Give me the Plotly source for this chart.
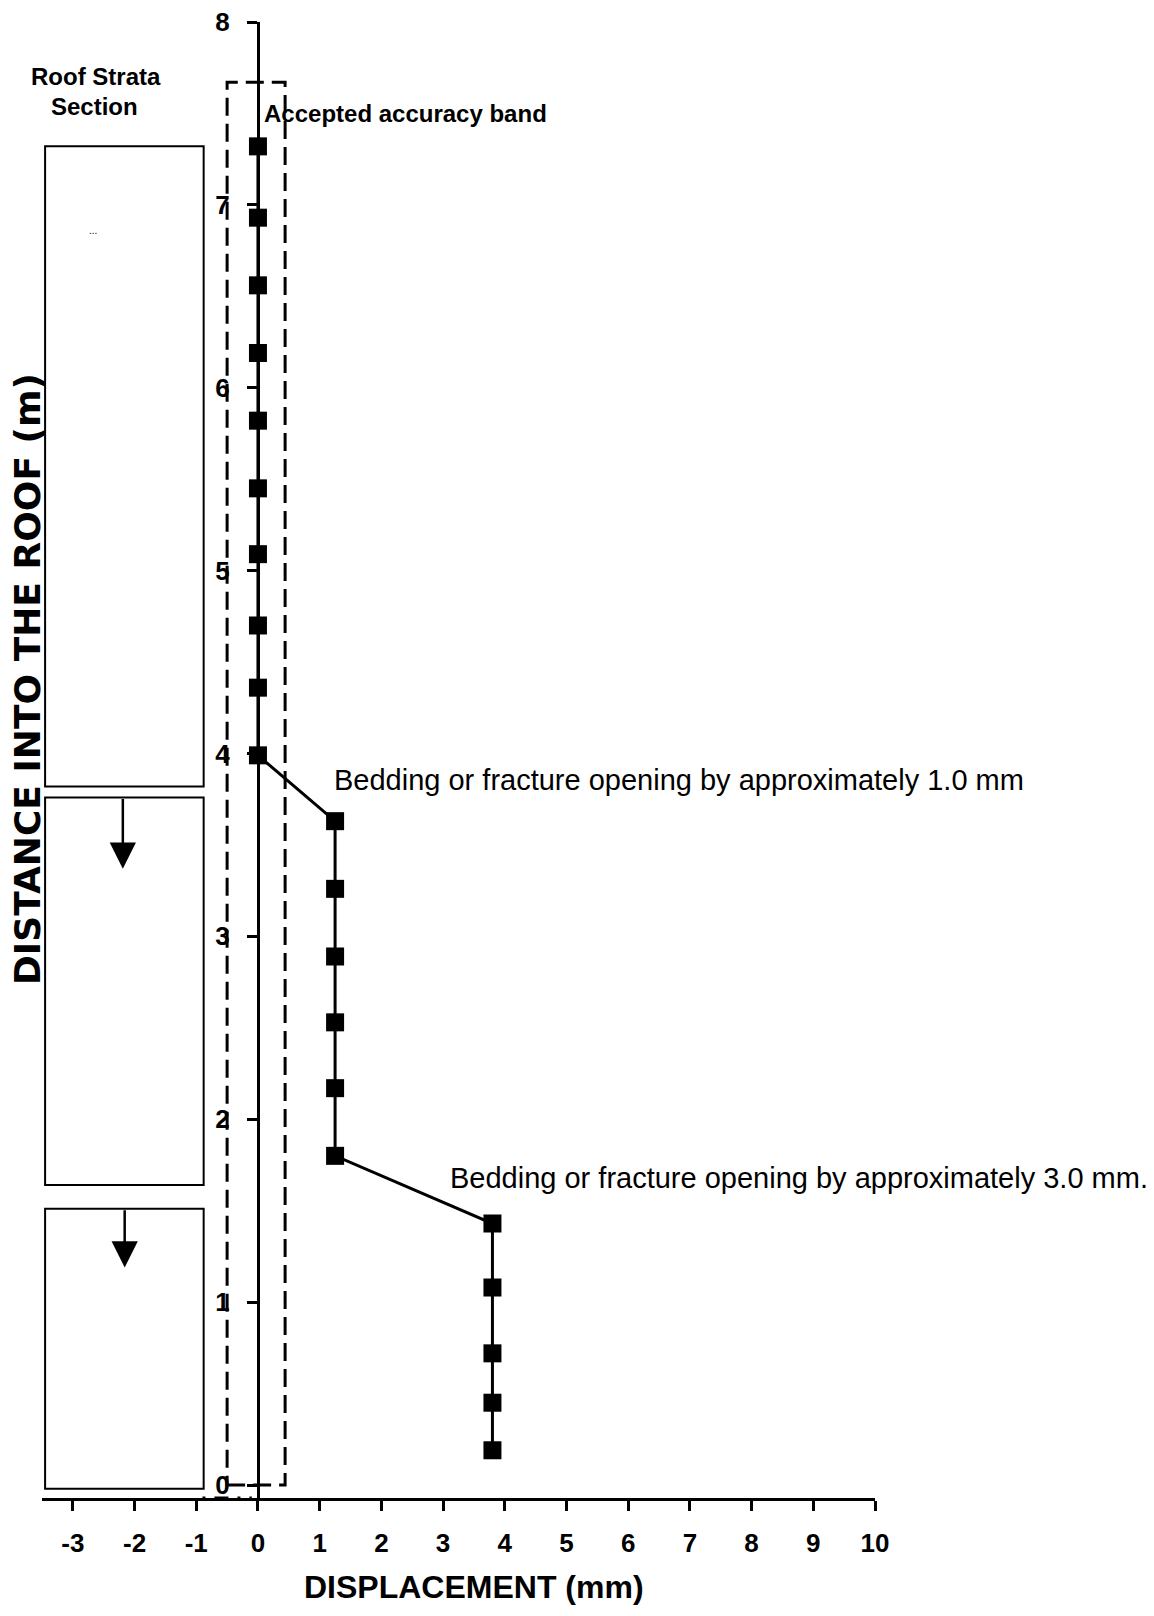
import plotly.graph_objects as go

# Extensometer readings: distance into the roof (m) against displacement (mm)
distance_m = [7.32, 6.93, 6.56, 6.19, 5.82, 5.45, 5.09, 4.70, 4.36, 3.99,
              3.63, 3.26, 2.89, 2.53, 2.17, 1.80,
              1.43, 1.08, 0.72, 0.45, 0.19]
displacement_mm = [0.0, 0.0, 0.0, 0.0, 0.0, 0.0, 0.0, 0.0, 0.0, 0.0,
                   1.25, 1.25, 1.25, 1.25, 1.25, 1.25,
                   3.8, 3.8, 3.8, 3.8, 3.8]

# Accepted accuracy band (mm / m)
band_x = [-0.5, 0.44]
band_y = [0.0, 7.67]

# Roof strata section blocks (m) and the movement arrows in them
strata_top = [7.32, 3.76, 1.51]
strata_bottom = [3.82, 1.64, -0.02]
strata_x = [-3.45, -0.88]
arrow_x = [-2.19, -2.16]
arrow_tail = [3.76, 1.51]
arrow_tip = [3.37, 1.19]

x_ticks = [-3, -2, -1, 0, 1, 2, 3, 4, 5, 6, 7, 8, 9, 10]
x_tick_text = ['-3', '-2', '-1', '0', '1', '2', '3', '4', '5', '6', '7', '8', '9', '10']
y_ticks = [0, 1, 2, 3, 4, 5, 6, 7, 8]

notes = ['Bedding or fracture opening by approximately 1.0 mm',
         'Bedding or fracture opening by approximately 3.0 mm.']

FONT = 'Liberation Sans, Arial, sans-serif'
X_RANGE = [-3.5, 10]
Y_RANGE = [-0.071, 8]
Y_POS = (0 - X_RANGE[0]) / (X_RANGE[1] - X_RANGE[0])  # y axis sits at x = 0

fig = go.Figure()

fig.add_trace(go.Scatter(
    x=displacement_mm, y=distance_m,
    mode='lines+markers',
    line=dict(color='black', width=3),
    marker=dict(symbol='square', size=18, color='black'),
    cliponaxis=False,
    showlegend=False
))

# accuracy band
fig.add_shape(type='rect', x0=band_x[0], x1=band_x[1], y0=band_y[0], y1=band_y[1],
              line=dict(color='black', width=3, dash='18px,8px'))

# strata blocks
for top, bottom in zip(strata_top, strata_bottom):
    fig.add_shape(type='rect', x0=strata_x[0], x1=strata_x[1], y0=bottom, y1=top,
                  line=dict(color='black', width=2))

for ax_, tail, tip in zip(arrow_x, arrow_tail, arrow_tip):
    fig.add_annotation(x=ax_, y=tip, ax=ax_, ay=tail, xref='x', yref='y',
                       axref='x', ayref='y', text='', showarrow=True,
                       arrowhead=2, arrowsize=2.1, arrowwidth=2.5, arrowcolor='black')

# the original axis line is broken between -1 and 0
fig.add_shape(type='line', x0=-0.93, x1=-0.08, y0=Y_RANGE[0], y1=Y_RANGE[0],
              line=dict(color='white', width=5))
fig.add_shape(type='line', x0=-0.9, x1=-0.1, y0=Y_RANGE[0], y1=Y_RANGE[0],
              line=dict(color='black', width=3, dash='3px,9px,14px,9px'))

bold = dict(family=FONT, color='black', weight='bold')

# text labels
fig.add_annotation(x=1.20, y=3.855, text=notes[0], showarrow=False,
                   xanchor='left', yanchor='middle',
                   font=dict(family=FONT, size=29, color='black'))
fig.add_annotation(x=3.08, y=1.68, text=notes[1], showarrow=False,
                   xanchor='left', yanchor='middle',
                   font=dict(family=FONT, size=29, color='black'))
fig.add_annotation(x=0.065, y=7.50, text='Accepted accuracy band', showarrow=False,
                   xanchor='left', yanchor='middle', font=dict(size=24, **bold))
fig.add_annotation(x=-2.63, y=7.70, text='Roof Strata', showarrow=False,
                   xanchor='center', yanchor='middle', font=dict(size=24, **bold))
fig.add_annotation(x=-2.65, y=7.54, text='Section', showarrow=False,
                   xanchor='center', yanchor='middle', font=dict(size=24, **bold))
fig.add_annotation(x=-2.67, y=6.86, text='...', showarrow=False,
                   xanchor='center', yanchor='middle',
                   font=dict(family=FONT, size=10, color='black'))

# axis titles
fig.add_annotation(x=3.5, y=-0.0603, xref='x', yref='paper', text='DISPLACEMENT (mm)',
                   showarrow=False, xanchor='center', yanchor='middle',
                   font=dict(size=32, **bold))
fig.add_annotation(x=-0.0165, y=0.555, xref='paper', yref='paper',
                   text='DISTANCE INTO THE ROOF (m)', textangle=-90,
                   showarrow=False, xanchor='center', yanchor='middle',
                   font=dict(family='DejaVu Sans, ' + FONT, size=36,
                             color='black', weight='bold'))

axis_common = dict(showgrid=False, zeroline=False, automargin=False)

# page body adds an 8px offset, so margins are shifted by that much
fig.update_layout(
    width=1154, height=1616,
    margin=dict(l=34.05, r=287, t=14, b=126, autoexpand=False),
    paper_bgcolor='white', plot_bgcolor='white',
    font=dict(family=FONT, color='black'),
    xaxis=dict(range=X_RANGE, tickvals=x_ticks, ticktext=x_tick_text,
               ticks='outside', ticklen=10, tickwidth=3, tickcolor='black',
               showline=True, linewidth=3, linecolor='black',
               tickfont=dict(size=26, **bold), ticklabelstandoff=10,
               ticklabeloverflow='allow', **axis_common),
    yaxis=dict(range=Y_RANGE, tickvals=y_ticks, anchor='free', position=Y_POS,
               ticks='outside', ticklen=10, tickwidth=3, tickcolor='black',
               showline=True, linewidth=3, linecolor='black',
               tickfont=dict(size=26, **bold), ticklabelstandoff=12,
               ticklabeloverflow='allow', **axis_common),
    # overlay axes give the crossing tick marks
    xaxis2=dict(range=X_RANGE, tickvals=x_ticks, overlaying='x', anchor='y', side='bottom',
                ticks='inside', ticklen=10, tickwidth=3, tickcolor='black',
                showticklabels=False, showline=False, **axis_common),
    yaxis2=dict(range=Y_RANGE, tickvals=y_ticks, overlaying='y', anchor='free',
                position=Y_POS, side='left',
                ticks='inside', ticklen=10, tickwidth=3, tickcolor='black',
                showticklabels=False, showline=False, **axis_common),
)

fig.write_html("out.html")
